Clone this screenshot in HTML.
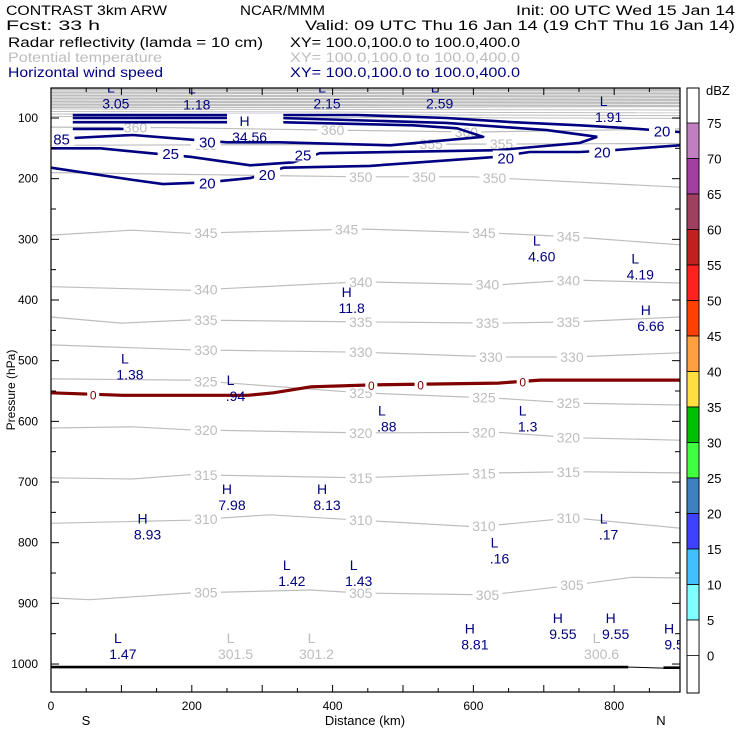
<!DOCTYPE html>
<html><head><meta charset="utf-8"><style>
body{margin:0;background:#fff}
svg{display:block;font-family:"Liberation Sans",sans-serif}
</style></head><body>
<svg id="chart" width="740" height="740" viewBox="0 0 740 740" xmlns="http://www.w3.org/2000/svg">
<g font-size="13.5">
<text x="6" y="15" textLength="161" lengthAdjust="spacingAndGlyphs">CONTRAST  3km ARW</text>
<text x="240" y="15" textLength="85" lengthAdjust="spacingAndGlyphs">NCAR/MMM</text>
<text x="516" y="15" textLength="219" lengthAdjust="spacingAndGlyphs">Init: 00 UTC Wed 15 Jan 14</text>
<text x="6" y="30" textLength="94" lengthAdjust="spacingAndGlyphs">Fcst:    33 h</text>
<text x="305" y="30" textLength="430" lengthAdjust="spacingAndGlyphs">Valid: 09 UTC Thu 16 Jan 14 (19 ChT Thu 16 Jan 14)</text>
<text x="8" y="47" textLength="255" lengthAdjust="spacingAndGlyphs">Radar reflectivity (lamda = 10 cm)</text>
<text x="290" y="47" textLength="230" lengthAdjust="spacingAndGlyphs">XY= 100.0,100.0 to 100.0,400.0</text>
<text x="8" y="62" fill="#bdbdbd" textLength="154" lengthAdjust="spacingAndGlyphs">Potential temperature</text>
<text x="290" y="62" fill="#bdbdbd" textLength="230" lengthAdjust="spacingAndGlyphs">XY= 100.0,100.0 to 100.0,400.0</text>
<text x="8" y="77" fill="#000080" textLength="155" lengthAdjust="spacingAndGlyphs">Horizontal wind speed</text>
<text x="290" y="77" fill="#000080" textLength="230" lengthAdjust="spacingAndGlyphs">XY= 100.0,100.0 to 100.0,400.0</text>
</g>
<g id="plot"></g>
<g id="axes"></g>
<g id="cbar"></g>
</svg>
<script>
// ---- data ----
const thetaLevels = [305,310,315,320,325,330,335,340,345,350,355,360];
const thetaKm = [
 [0,55,197,369,440,624,741,825,893],
 [0,197,310,440,605,741,893],
 [0,115,197,440,635,741,893],
 [0,115,197,440,635,741,893],
 [0,197,440,635,741,893],
 [0,197,440,635,741,893],
 [0,100,197,440,635,741,893],
 [0,197,440,635,741,893],
 [0,115,197,440,635,741,893],
 [0,440,600,893],
 [0,893],
 [0,170,400,600,893]
];
const thetaP = [
 [891,894,883,878,883,886,870,857,858],
 [768,763,754,763,774,759,776],
 [693,695,688,693,685,683,685],
 [611,609,614,619,618,627,631],
 [530,532,553,562,570,573],
 [474,482,486,494,494,487],
 [428,438,433,436,438,436,428],
 [378,384,370,375,367,372],
 [293,285,290,283,290,296,309],
 [190,197,197,214],
 [145,142],
 [115,116,120,123,118]
];
const thetaLabelKm = [
 [220,440,620,740],[220,440,615,735],[220,440,615,735],[220,440,615,735],
 [220,440,615,735],[220,440,625,740],[220,440,620,735],[220,440,620,735],
 [220,420,615,735],[440,530,630],[220,540,640],[120,400,590]
];
const freezeKm = [0,102,280,316,369,457,635,695,893];
const freezeP = [553,557,557,553,543,540,537,532,532];
const freezeLabelKm = [60,455,525,670];
const wind20Km = [31,435,562,656,751,822,893];
const wind20P = [95,95,100,107,112,117,123];
const wind20LowKm = [0,116,159,222,283,330,453,634,680,751,798,893];
const wind20LowP = [182,202,209,206,199,182,179,164,156,156,153,145];
const wind25UpKm = [31,325,562,704,776];
const wind25UpP = [100,100,108,120,131];
const wind25LowKm = [0,70,141,198,283,344,382,634,751,776];
const wind25LowP = [150,150,158,164,178,173,158,153,141,131];
const wind30Km = [31,325,514,577,614,482,325,250,202,116,31];
const wind30P = [107,107,112,117,131,145,140,140,136,128,133];
const wind85Km = [31,103];
const wind85P = [118,118];
const groundKm = [0,820];
const groundP = [1005,1005];
const extremaKind = ["L","L","L","L","H","L","L","L","H","H","L","L","L","L","H","H","H","L","L","L","L","H","H","H","H","L"];
const extremaVal = ["3.05","1.18","2.15","2.59","34.56","1.91","4.60","4.19","11.8","6.66","1.38",".94",".88","1.3","7.98","8.13","8.93",".17",".16","1.42","1.43","9.55","9.55","8.81","9.5","1.47"];
const extremaKm = [85,200,385,545,275,785,690,830,420,845,105,255,470,670,250,385,130,785,630,335,430,720,795,595,878,95];
const extremaP = [58,60,58,58,113,80,310,340,395,425,505,540,590,590,720,720,768,768,808,845,845,932,932,950,950,965];
const grayKind = ["L","L","L"];
const grayVal = ["301.5","301.2","300.6"];
const grayKm = [255,370,775];
const grayP = [965,965,965];
const cbarLevels = [75,70,65,60,55,50,45,40,35,30,25,20,15,10,5,0];
const cbarColors = ["#c080c0","#a040a0","#a04060","#c02020","#ff2020","#ff4000","#ffa040","#ffe040","#00c000","#40ff40","#4080c0","#4040ff","#40c0ff","#80ffff","#ffffff"];
const xTicks = [0,200,400,600,800];
const yTicks = [100,200,300,400,500,600,700,800,900,1000];

// ---- scales ----
const X0=51, X1=680, KMMAX=893.5, PPX=0.6067;
function xs(km){return X0+(km/KMMAX)*(X1-X0);}
function ys(p){return 118+(p-100)*PPX;}
const Y0=88, Y1=692;
const NS="http://www.w3.org/2000/svg";
function el(tag,attrs,parent){const e=document.createElementNS(NS,tag);for(const k in attrs)e.setAttribute(k,attrs[k]);parent.appendChild(e);return e;}
function pts(kms,ps){return kms.map((k,i)=>xs(k).toFixed(1)+","+ys(ps[i]).toFixed(1)).join(" ");}
function interpP(kms,ps,k){for(let i=0;i<kms.length-1;i++){if(k>=kms[i]&&k<=kms[i+1]){const t=(k-kms[i])/(kms[i+1]-kms[i]);return ps[i]+t*(ps[i+1]-ps[i]);}}return ps[ps.length-1];}
const plot=document.getElementById('plot');
const cp=el('clipPath',{id:'clp'},plot);
el('rect',{x:X0,y:Y0,width:X1-X0,height:Y1-Y0},cp);
const g=el('g',{'clip-path':'url(#clp)'},plot);

// top dense theta band
const band=el('rect',{x:X0,y:Y0,width:X1-X0,height:20,fill:'#bebebe'},g);


for(let i=0;i<6;i++){const l=el('line',{x1:X0,x2:X1,y1:91+i*3,y2:92+i*3.1,stroke:'#fff','stroke-width':0.7},g);

}
for(let i=0;i<4;i++){const l=el('line',{x1:X0,x2:X1,y1:109+i*2.5,y2:110+i*2.8,stroke:'#bebebe','stroke-width':1},g);

}

// theta contours
thetaLevels.forEach((lv,i)=>{
 const pl=el('polyline',{points:pts(thetaKm[i],thetaP[i]),fill:'none',stroke:'#bdbdbd','stroke-width':1.2},g);
 
 
 thetaLabelKm[i].forEach(k=>{
  const x=xs(k), y=ys(interpP(thetaKm[i],thetaP[i],k));
  const r=el('rect',{x:x-15,y:y-7,width:30,height:14,fill:'#fff'},g);
  
  
  const t=el('text',{x:x,y:y+5,'text-anchor':'middle','font-size':14,fill:'#bdbdbd'},g);
  t.textContent=lv;
  
  
 });
});

// wind contours
function windLine(kms,ps,name){const pl=el('polyline',{points:pts(kms,ps),fill:'none',stroke:'#000080','stroke-width':2.6,'stroke-linejoin':'round'},g);
 
 }
windLine(wind20Km,wind20P,'wind-contour-20-upper');
windLine(wind20LowKm,wind20LowP,'wind-contour-20-lower');
windLine(wind25UpKm,wind25UpP,'wind-contour-25-upper');
windLine(wind25LowKm,wind25LowP,'wind-contour-25-lower');
windLine(wind30Km,wind30P,'wind-contour-30');
windLine(wind85Km,wind85P,'wind-contour-fragment');
// gap for jet core label
const gap=el('rect',{x:xs(250),y:ys(93),width:xs(330)-xs(250),height:12,fill:'#fff'},g);


function windLabel(k,p,txt){const x=xs(k),y=ys(p);
 const r=el('rect',{x:x-13,y:y-7,width:26,height:14,fill:'#fff'},g);
 
 
 const t=el('text',{x:x,y:y+6,'text-anchor':'middle','font-size':15,fill:'#000080'},g);t.textContent=txt;
 
 }
windLabel(222,206,'20');windLabel(307,192,'20');windLabel(646,165,'20');windLabel(783,155,'20');windLabel(868,121,'20');
windLabel(170,158,'25');windLabel(358,160,'25');windLabel(222,139,'30');windLabel(15,134,'85');

// freezing line
const fz=el('polyline',{points:pts(freezeKm,freezeP),fill:'none',stroke:'#800000','stroke-width':3.2},g);


freezeLabelKm.forEach(k=>{const x=xs(k),y=ys(interpP(freezeKm,freezeP,k));
 const r=el('rect',{x:x-6,y:y-6,width:12,height:12,fill:'#fff'},g);
 
 
 const t=el('text',{x:x,y:y+5,'text-anchor':'middle','font-size':12,fill:'#800000'},g);t.textContent='0';
 
 });

// ground
const gr=el('polyline',{points:pts(groundKm,groundP),fill:'none',stroke:'#000','stroke-width':2.6},g);


const gr2=el('line',{x1:xs(820),x2:xs(870),y1:ys(1005),y2:ys(1005)+1,stroke:'#000','stroke-width':1},g);


const gr3=el('line',{x1:xs(870),x2:X1,y1:ys(1006),y2:ys(1006),stroke:'#000','stroke-width':2.6},g);



// extrema
function extremum(kind,val,k,p,color,name){const x=xs(k),y=ys(p);
 const t1=el('text',{x:x,y:y,'text-anchor':'middle','font-size':14,fill:color},g);t1.textContent=kind;
 
 
 const t2=el('text',{x:x+5,y:y+16,'text-anchor':'middle','font-size':14,fill:color},g);t2.textContent=val;
 
 }
extremaKind.forEach((k,i)=>extremum(k,extremaVal[i],extremaKm[i],extremaP[i],'#000080','wind-extremum'));
grayKind.forEach((k,i)=>extremum(k,grayVal[i],grayKm[i],grayP[i],'#bdbdbd','theta-extremum'));

// axes
const ax=document.getElementById('axes');
const frame=el('rect',{x:X0,y:Y0,width:X1-X0,height:Y1-Y0,fill:'none',stroke:'#000','stroke-width':1.2},ax);


for(let k=0;k<=KMMAX;k+=50){const x=xs(k),L=(k%100===0)?7:4;
 el('line',{x1:x,x2:x,y1:Y1,y2:Y1-L,stroke:'#000'},ax);
 el('line',{x1:x,x2:x,y1:Y0,y2:Y0+L,stroke:'#000'},ax);}
for(let p=100;p<=1000;p+=50){const y=ys(p),L=(p%100===0)?8:5;
 el('line',{x1:X0,x2:X0+L,y1:y,y2:y,stroke:'#000'},ax);
 el('line',{x1:X1,x2:X1-L,y1:y,y2:y,stroke:'#000'},ax);}
xTicks.forEach(k=>{const t=el('text',{x:xs(k),y:710,'text-anchor':'middle','font-size':12},ax);t.textContent=k;
 
 });
yTicks.forEach(p=>{const t=el('text',{x:38,y:ys(p)+4,'text-anchor':'end','font-size':12},ax);t.textContent=p;
 
 });
const xt=el('text',{x:365,y:725,'text-anchor':'middle','font-size':13},ax);xt.textContent='Distance (km)';


const sL=el('text',{x:86,y:725,'text-anchor':'middle','font-size':13},ax);sL.textContent='S';


const nL=el('text',{x:661,y:725,'text-anchor':'middle','font-size':13},ax);nL.textContent='N';


const yt=el('text',{x:0,y:0,'text-anchor':'middle','font-size':12,transform:'translate(15,390) rotate(-90)'},ax);yt.textContent='Pressure (hPa)';



// colorbar
const cb=document.getElementById('cbar');
const CX=687,CW=12,CT=88,CB=693,B75=123,STEP=35.5;
const cbBox=el('rect',{x:CX,y:CT,width:CW,height:CB-CT,fill:'#fff',stroke:'#000'},cb);


cbarColors.forEach((c,i)=>{const r=el('rect',{x:CX,y:B75+i*STEP,width:CW,height:STEP,fill:c,stroke:'#000','stroke-width':0.8},cb);
 
 });
cbarLevels.forEach((v,i)=>{const t=el('text',{x:707,y:B75+i*STEP+5,'font-size':13},cb);t.textContent=v;
 
 });
const du=el('text',{x:706,y:95,'font-size':13},cb);du.textContent='dBZ';


</script>
</body></html>
